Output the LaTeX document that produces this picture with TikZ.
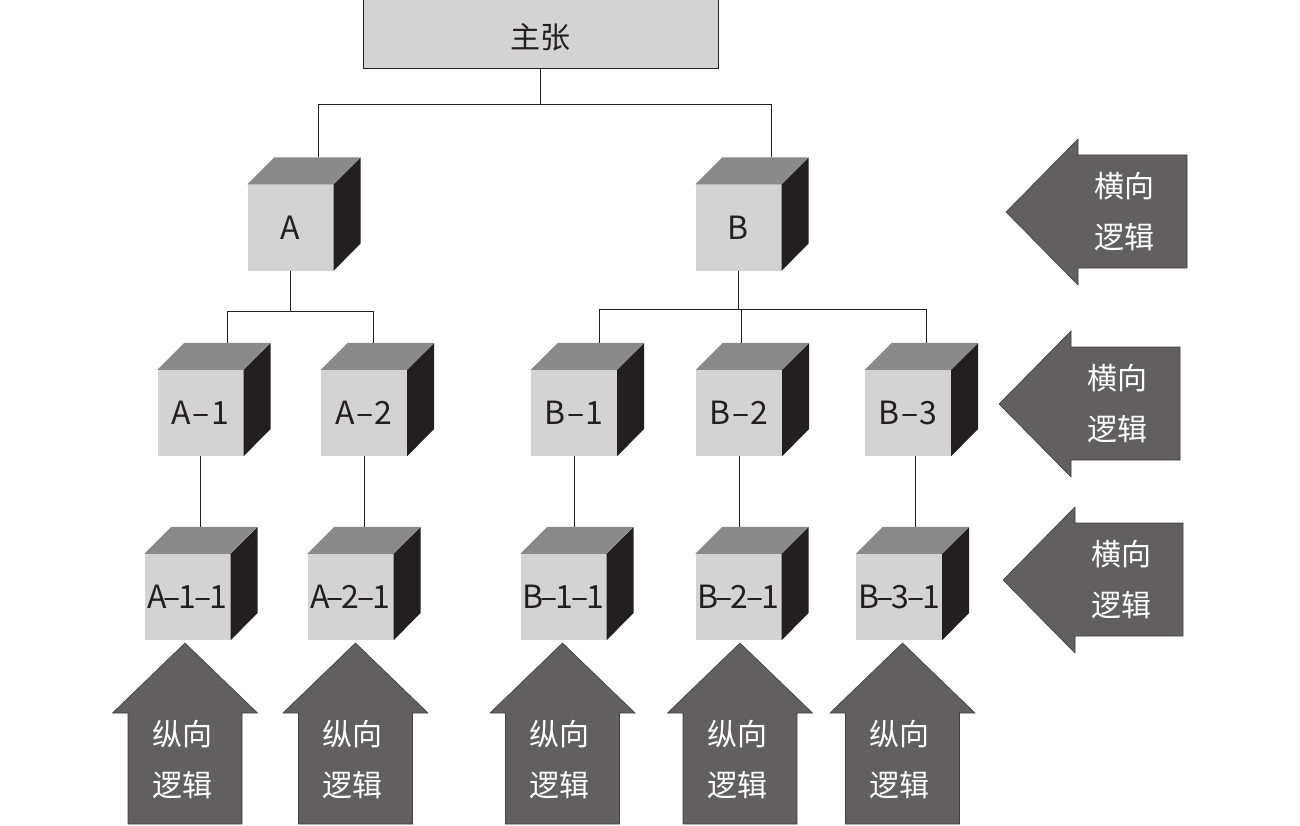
\documentclass[tikz,border=0pt]{standalone}
\usepackage{fontspec}
\setmainfont{Noto Sans CJK SC}
\usetikzlibrary{calc,positioning}
\definecolor{facegray}{RGB}{211,211,211}
\definecolor{topgray}{RGB}{138,138,138}
\definecolor{sidegray}{RGB}{35,31,32}
\definecolor{arrowgray}{RGB}{97,95,96}
\definecolor{inkgray}{RGB}{35,31,32}

\begin{document}
\begin{tikzpicture}[x=1pt,y=-1pt,
  cube/.style={fill=facegray,minimum size=86pt,inner sep=0pt,text=inkgray,font=\fontsize{32}{36}\selectfont},
  claim/.style={draw=inkgray,fill=facegray,line width=1pt,minimum width=355pt,minimum height=69pt,inner sep=0pt,
    text height=29pt,text depth=0pt,text=inkgray,font=\fontsize{30}{36}\selectfont},
  link/.style={draw=inkgray,line width=0.9pt},
  bigarrow/.style={fill=arrowgray,draw=black!75,line width=0.6pt},
  arrowtext/.style={text=white,align=center,font=\fontsize{30}{51}\selectfont}]

\useasboundingbox (0,0) rectangle (1300,826);

\node[claim] (M) at (540.5,34.5) {主张};

\node[cube] (A) at (290.5,227.5) {A};
\node[cube] (B) at (738.5,227.5) {B};

\node[cube] (A1) at (200.5,413) {A\kern1.5pt–\kern1.5pt1};
\node[cube] (A2) at (364,413) {A\kern1.5pt–\kern1.5pt2};
\node[cube] (B1) at (574,413) {B\kern1.5pt–\kern1.5pt1};
\node[cube] (B2) at (739,413) {B\kern1.5pt–\kern1.5pt2};
\node[cube] (B3) at (908,413) {B\kern1.5pt–\kern1.5pt3};

\node[cube] (A11) at (187.5,597) {A\kern-3pt–\kern-2pt1\kern-2pt–\kern-2pt1};
\node[cube] (A21) at (350.5,597) {A\kern-3pt–\kern-2pt2\kern-2pt–\kern-2pt1};
\node[cube] (B11) at (563.5,597) {B\kern-3pt–\kern-2pt1\kern-2pt–\kern-2pt1};
\node[cube] (B21) at (738.5,597) {B\kern-3pt–\kern-2pt2\kern-2pt–\kern-2pt1};
\node[cube] (B31) at (899,597) {B\kern-3pt–\kern-2pt3\kern-2pt–\kern-2pt1};

% top and side faces of the cubes
\foreach \n in {A,B,A1,A2,B1,B2,B3,A11,A21,B11,B21,B31}{
  \fill[topgray] (\n.north west) -- ++(27,-27) -- ++(86,0) -- (\n.north east) -- cycle;
  \fill[sidegray] (\n.north east) -- ++(27,-27) -- ++(0,86) -- (\n.south east) -- cycle;
  \coordinate (\n-t) at ($(\n.north)+(0,-27)$);
}

\draw[link] (M.south) -- ++(0,35) coordinate (j0) -| ([xshift=28pt]A-t);
\draw[link] (j0) -| ([xshift=33pt]B-t);
\draw[link] (A.south) -- ++(0,41) coordinate (ja) -| ([xshift=27pt]A1-t);
\draw[link] (ja) -| ([xshift=9pt]A2-t);
\draw[link] (B.south) -- ++(0,39) coordinate (jb) -| ([xshift=25pt]B1-t);
\draw[link] (jb) -| ([xshift=2pt]B2-t);
\draw[link] (jb) -| ([xshift=18pt]B3-t);

\draw[link] (A1.south) -- (A1.south |- A11-t);
\draw[link] (A2.south) -- (A2.south |- A21-t);
\draw[link] (B1.south) -- (B1.south |- B11-t);
\draw[link] (B2.south) -- (B2.south |- B21-t);
\draw[link] ([xshift=7pt]B3.south) -- ([xshift=7pt]B3.south |- B31-t);

% vertical logic arrows
\foreach \c/\n in {185/v1,355.5/v2,562.5/v3,740/v4,902.5/v5}{
  \draw[bigarrow] (\c,643) -- (\c+72.5,713) -- (\c+57,713) -- (\c+57,824)
    -- (\c-57,824) -- (\c-57,713) -- (\c-72.5,713) -- cycle;
  \node[arrowtext] (\n) at (\c-3,760) {纵向\\逻辑};
}

% horizontal logic arrows
\foreach \tx/\cy/\rx/\n in {1006/212/1187/h1,999/404/1180/h2,1003/580/1183/h3}{
  \draw[bigarrow] (\tx,\cy) -- (\tx+72,\cy-73) -- (\tx+72,\cy-57) -- (\rx,\cy-57)
    -- (\rx,\cy+56) -- (\tx+72,\cy+56) -- (\tx+72,\cy+73) -- cycle;
  \node[arrowtext] (\n) at (\tx+118,\cy) {横向\\逻辑};
}
\end{tikzpicture}
\end{document}
